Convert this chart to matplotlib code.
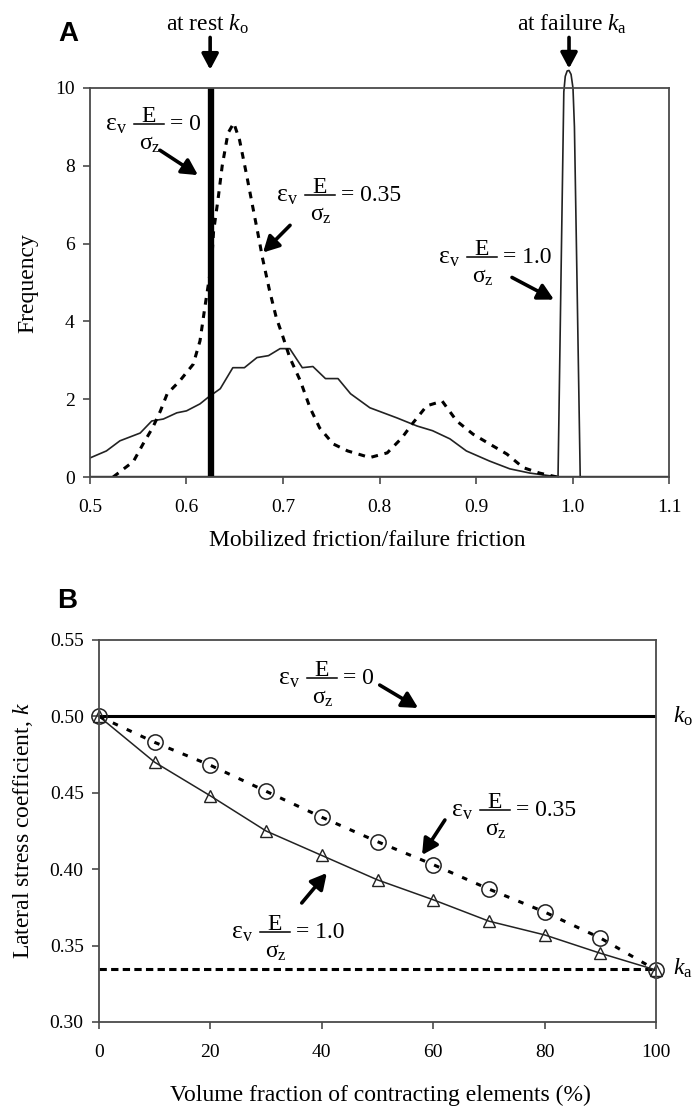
"""Frequency of mobilized friction (A) and lateral stress coefficient (B)."""

import matplotlib

matplotlib.use("Agg")
import matplotlib.pyplot as plt
from matplotlib.lines import Line2D

plt.rcParams["font.family"] = ["Liberation Serif", "DejaVu Serif"]
plt.rcParams["mathtext.fontset"] = "custom"
plt.rcParams["mathtext.rm"] = "Liberation Serif"
plt.rcParams["mathtext.it"] = "Liberation Serif:italic"
plt.rcParams["mathtext.bf"] = "Liberation Serif:bold"

# ---- panel A data -------------------------------------------------------
a_xticks = [0.5, 0.6, 0.7, 0.8, 0.9, 1.0, 1.1]
a_xticklabels = ["0.5", "0.6", "0.7", "0.8", "0.9", "1.0", "1.1"]
a_yticks = [0, 2, 4, 6, 8, 10]

# eps_v E / sigma_z = 0 : every element at rest (spike, off scale)
eps0_x = [0.50, 0.6235, 0.6235, 0.6265, 0.6265, 1.10]
eps0_y = [0.0, 0.0, 12.0, 12.0, 0.0, 0.0]

# eps_v E / sigma_z = 0.35
eps035_x = [0.524, 0.545, 0.555, 0.565, 0.573, 0.580, 0.593, 0.607, 0.614, 0.619,
            0.626, 0.628, 0.633, 0.637, 0.643, 0.649, 0.655, 0.662, 0.669, 0.674,
            0.679, 0.686, 0.693, 0.700, 0.707, 0.718, 0.728, 0.738, 0.752, 0.767,
            0.790, 0.808, 0.823, 0.835, 0.849, 0.865, 0.880, 0.897, 0.914, 0.932,
            0.949, 0.966, 0.984]
eps035_y = [0.0, 0.4, 0.85, 1.27, 1.7, 2.14, 2.47, 2.9, 3.5, 4.36,
            5.5, 6.3, 7.2, 8.0, 8.84, 9.1, 8.66, 7.8, 6.9, 6.26,
            5.6, 4.8, 4.1, 3.6, 3.07, 2.47, 1.78, 1.26, 0.85, 0.67,
            0.50, 0.62, 1.0, 1.4, 1.83, 1.95, 1.44, 1.1, 0.85, 0.59,
            0.24, 0.1, 0.0]

# broad thin curve
broad_x = [0.500, 0.517, 0.531, 0.552, 0.564, 0.576, 0.590, 0.600, 0.614, 0.622,
           0.635, 0.648, 0.660, 0.673, 0.685, 0.697, 0.707, 0.720, 0.731, 0.744,
           0.757, 0.770, 0.790, 0.818, 0.839, 0.855, 0.873, 0.890, 0.914, 0.935,
           0.956, 0.977, 0.987]
broad_y = [0.49, 0.67, 0.93, 1.13, 1.44, 1.49, 1.65, 1.70, 1.88, 2.04,
           2.27, 2.81, 2.81, 3.07, 3.12, 3.30, 3.30, 2.81, 2.84, 2.53,
           2.53, 2.14, 1.78, 1.52, 1.31, 1.19, 0.98, 0.67, 0.41, 0.21,
           0.10, 0.03, 0.0]

# eps_v E / sigma_z = 1.0 : narrow peak at failure
eps1_x = [0.985, 0.988, 0.991, 0.9925, 0.9945, 0.9964, 0.9985, 1.0005, 1.002, 1.0047, 1.008]
eps1_y = [0.0, 5.0, 9.9, 10.3, 10.44, 10.45, 10.35, 10.0, 9.0, 5.0, 0.0]

# ---- panel B data -------------------------------------------------------
vol_frac = [0, 10, 20, 30, 40, 50, 60, 70, 80, 90, 100]
k_035 = [0.500, 0.483, 0.468, 0.451, 0.434, 0.418, 0.403, 0.387, 0.372, 0.355, 0.334]
k_10 = [0.500, 0.470, 0.448, 0.425, 0.409, 0.393, 0.380, 0.366, 0.357, 0.345, 0.334]
k_rest = 0.50
k_fail = 0.335
b_xticks = [0, 20, 40, 60, 80, 100]
b_yticks = [0.30, 0.35, 0.40, 0.45, 0.50, 0.55]
b_yticklabels = ["0.30", "0.35", "0.40", "0.45", "0.50", "0.55"]

W, H = 697, 1106
SPINE = "#4a4a4a"
FS = 17
ARROW = dict(arrowstyle="-|>,head_length=0.45,head_width=0.24", lw=2.6, color="black",
             mutation_scale=21, shrinkA=0, shrinkB=0)


def px_axes(left, top, right, bottom):
    return fig.add_axes([left / W, 1 - bottom / H, (right - left) / W, (bottom - top) / H])


def ftext(x, y, s, **kw):
    # x, y in pixels from the top-left corner
    return fig.text(x / W, 1 - y / H, s, **kw)


def eq_label(x0, bar, value):
    # eps_v * E / sigma_z = value, built from pieces; x0 = left of eps, bar = y of fraction bar
    ftext(x0 - 2, bar + 6, r"ε$_{\rm v}$", fontsize=18.5, ha="left", va="baseline")
    fig.add_artist(Line2D([(x0 + 27) / W, (x0 + 57) / W], [1 - bar / H, 1 - bar / H],
                          transform=fig.transFigure, color="black", lw=1.1))
    ftext(x0 + 42, bar - 2, "E", fontsize=FS, ha="center", va="baseline")
    ftext(x0 + 42.5, bar + 26, r"σ$_{\rm z}$", fontsize=FS, ha="center", va="baseline")
    ftext(x0 + 63, bar + 6, "= " + value, fontsize=FS, ha="left", va="baseline")


def style(ax):
    for s in ax.spines.values():
        s.set_color(SPINE)
        s.set_linewidth(1.3)
    ax.tick_params(direction="out", length=5, width=1.2, color=SPINE, labelsize=14)
    ax.tick_params(axis="x", pad=11)
    ax.tick_params(axis="y", pad=6)


fig = plt.figure(figsize=(W / 100, H / 100), dpi=100)

# ---- panel A ------------------------------------------------------------
ax = px_axes(90, 88, 669, 477)
style(ax)
ax.plot(broad_x, broad_y, color="#222222", lw=1.2)
ax.plot(eps035_x, eps035_y, color="black", lw=2.2, dashes=(2.2, 2.2))
ax.plot(eps0_x, eps0_y, color="black", lw=2.4, solid_joinstyle="miter")
ax.plot(eps1_x, eps1_y, color="#222222", lw=1.2, clip_on=False)
ax.set_xlim(0.5, 1.1)
ax.set_ylim(0, 10)
ax.set_xticks(a_xticks)
ax.set_xticklabels(a_xticklabels)
ax.set_yticks(a_yticks)

ax.annotate("", xy=(0.6245, 10.47), xytext=(0.6245, 11.3), arrowprops=ARROW, annotation_clip=False)
ax.annotate("", xy=(0.9964, 10.5), xytext=(0.9964, 11.3), arrowprops=ARROW, annotation_clip=False)
ftext(208, 24, r"at rest $k_{\rm o}$", ha="center", va="center", fontsize=FS)
ftext(572, 24, r"at failure $k_{\rm a}$", ha="center", va="center", fontsize=FS)

eq_label(107, 124, "0")
ax.annotate("", xy=(0.6119, 7.76), xytext=(0.5725, 8.40), arrowprops=ARROW)
eq_label(278, 195, "0.35")
ax.annotate("", xy=(0.6793, 5.77), xytext=(0.7073, 6.47), arrowprops=ARROW)
eq_label(440, 257, "1.0")
ax.annotate("", xy=(0.9808, 4.56), xytext=(0.9373, 5.13), arrowprops=ARROW)

ftext(58, 34, "A", fontsize=20, fontweight="bold",
      family=["Liberation Sans", "DejaVu Sans"], ha="left", va="center")
ftext(28, 283, "Frequency", rotation=90, fontsize=FS, ha="center", va="center")
ftext(367, 541, "Mobilized friction/failure friction", fontsize=FS, ha="center", va="center")

# ---- panel B ------------------------------------------------------------
bx = px_axes(99, 640, 656, 1022)
style(bx)
bx.axhline(k_rest, color="black", lw=2.2)
bx.axhline(k_fail, color="black", lw=2.2, dashes=(2.4, 1.4))
bx.plot(vol_frac, k_10, color="#222222", lw=1.1, marker="^", ms=8, mfc="none",
        mec="#222222", mew=1.0, clip_on=False)
bx.plot(vol_frac, k_035, color="black", lw=2.2, dashes=(1.8, 3.2), marker="o", ms=11,
        mfc="none", mec="#222222", mew=1.1, clip_on=False)
bx.set_xlim(0, 100)
bx.set_ylim(0.30, 0.55)
bx.set_xticks(b_xticks)
bx.set_yticks(b_yticks)
bx.set_yticklabels(b_yticklabels)

bx.text(103.0, k_rest, r"$k_{\rm o}$", ha="left", va="center", fontsize=FS)
bx.text(103.0, k_fail, r"$k_{\rm a}$", ha="left", va="center", fontsize=FS)

eq_label(280, 678, "0")
bx.annotate("", xy=(57.3, 0.5055), xytext=(50.4, 0.5205), arrowprops=ARROW)
eq_label(453, 810, "0.35")
bx.annotate("", xy=(58.0, 0.4093), xytext=(62.1, 0.4322), arrowprops=ARROW)
eq_label(233, 932, "1.0")
bx.annotate("", xy=(40.9, 0.3975), xytext=(36.4, 0.3779), arrowprops=ARROW)

ftext(57, 601, "B", fontsize=20, fontweight="bold",
      family=["Liberation Sans", "DejaVu Sans"], ha="left", va="center")
ftext(23, 831, r"Lateral stress coefficient, $k$", rotation=90, fontsize=FS,
      ha="center", va="center")
ftext(380, 1095, "Volume fraction of contracting elements (%)", fontsize=FS,
      ha="center", va="center")

fig.savefig("out.png", dpi=100)
